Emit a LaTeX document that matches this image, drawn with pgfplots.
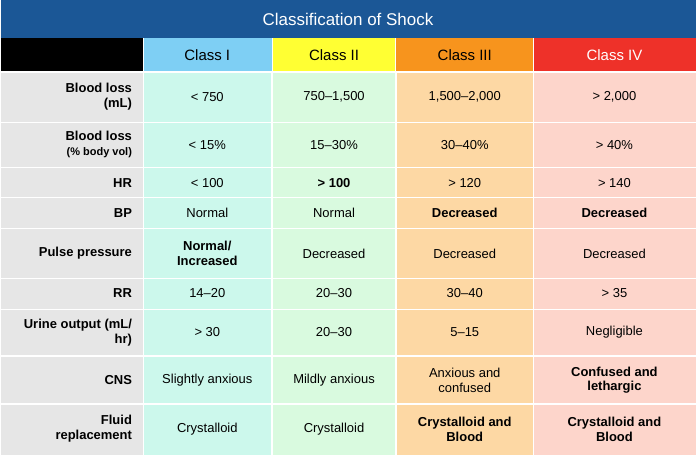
\documentclass[border=0pt]{standalone}
\usepackage{pgfplots}
\pgfplotsset{compat=1.18}
\usepackage{fontspec}
\setmainfont{Liberation Sans}
\definecolor{tblue}{HTML}{1B5796}
\definecolor{c1}{HTML}{7ECFF4}
\definecolor{c2}{HTML}{FFFF33}
\definecolor{c3}{HTML}{F7941D}
\definecolor{c4}{HTML}{EE3129}
\definecolor{p0}{HTML}{E6E6E6}
\definecolor{p1}{HTML}{CCF8EC}
\definecolor{p2}{HTML}{D9FADF}
\definecolor{p3}{HTML}{FDD8A4}
\definecolor{p4}{HTML}{FDD5CB}
\newcommand\cellrow[2]{%
 \fill[p0] (axis cs:0,#1) rectangle (axis cs:143,#2);
 \fill[p1] (axis cs:143,#1) rectangle (axis cs:272,#2);
 \fill[p2] (axis cs:272,#1) rectangle (axis cs:396,#2);
 \fill[p3] (axis cs:396,#1) rectangle (axis cs:534,#2);
 \fill[p4] (axis cs:534,#1) rectangle (axis cs:697,#2);
 \draw[white,line width=1.5pt] (axis cs:0,#1)--(axis cs:697,#1);}
\newcommand\lab[2]{\node[anchor=east,align=right,font=\fontsize{13}{15}\selectfont\bfseries] at (axis cs:135,#1) {#2};}
\newcommand\row[5]{\node at (axis cs:207,#1) {#2};\node at (axis cs:334,#1) {#3};\node at (axis cs:465,#1) {#4};\node at (axis cs:615,#1) {#5};}
\begin{document}
\begin{tikzpicture}
\begin{axis}[width=697pt,height=456pt,scale only axis,axis lines=none,
 xmin=0,xmax=697,ymin=0,ymax=456,y dir=reverse,clip=false]
\fill[tblue] (axis cs:0,0) rectangle (axis cs:697,38);
\node[white,font=\fontsize{17}{20}\selectfont] at (axis cs:348,19) {Classification of Shock};
\fill[black] (axis cs:0,38) rectangle (axis cs:143,72);
\fill[c1] (axis cs:143,38) rectangle (axis cs:272,72);
\fill[c2] (axis cs:272,38) rectangle (axis cs:396,72);
\fill[c3] (axis cs:396,38) rectangle (axis cs:534,72);
\fill[c4] (axis cs:534,38) rectangle (axis cs:697,72);
\draw[white,line width=1pt] (axis cs:143,38)--(axis cs:143,72) (axis cs:272,38)--(axis cs:272,72) (axis cs:396,38)--(axis cs:396,72) (axis cs:534,38)--(axis cs:534,72);
\node[font=\fontsize{15}{18}\selectfont] at (axis cs:207,55) {Class I};
\node[font=\fontsize{15}{18}\selectfont] at (axis cs:334,55) {Class II};
\node[font=\fontsize{15}{18}\selectfont] at (axis cs:465,55) {Class III};
\node[white,font=\fontsize{15}{18}\selectfont] at (axis cs:615,55) {Class IV};
\cellrow{72}{123}
\cellrow{123}{168}
\cellrow{168}{198}
\cellrow{198}{229}
\cellrow{229}{279}
\cellrow{279}{310}
\cellrow{310}{357}
\cellrow{357}{405}
\cellrow{405}{456}
\draw[white,line width=1.5pt] (axis cs:143,72)--(axis cs:143,456) (axis cs:272,72)--(axis cs:272,456) (axis cs:396,72)--(axis cs:396,456) (axis cs:534,72)--(axis cs:534,456);
\begin{scope}[every node/.style={font=\fontsize{13}{15}\selectfont,align=center}]
\lab{97}{Blood loss\\(mL)}
\node[anchor=east,align=right] at (axis cs:135,145) {\textbf{Blood loss}\\{\fontsize{11}{14}\selectfont\bfseries(\% body vol)}};
\lab{183}{HR}
\lab{213}{BP}
\lab{254}{Pulse pressure}
\lab{294}{RR}
\lab{333}{Urine output (mL/\\hr)}
\lab{381}{CNS}
\lab{430}{Fluid\\replacement}
\row{97}{< 750}{750--1,500}{1,500--2,000}{> 2,000}
\row{145}{< 15\%}{15--30\%}{30--40\%}{> 40\%}
\row{183}{< 100}{\textbf{> 100}}{> 120}{> 140}
\row{213}{Normal}{Normal}{\textbf{Decreased}}{\textbf{Decreased}}
\row{254}{\textbf{Normal/}\\\textbf{Increased}}{Decreased}{Decreased}{Decreased}
\row{294}{14--20}{20--30}{30--40}{> 35}
\row{333}{> 30}{20--30}{5--15}{Negligible}
\row{381}{Slightly anxious}{Mildly anxious}{Anxious and\\confused}{\textbf{Confused and}\\\textbf{lethargic}}
\row{430}{Crystalloid}{Crystalloid}{\textbf{Crystalloid and}\\\textbf{Blood}}{\textbf{Crystalloid and}\\\textbf{Blood}}
\end{scope}
\end{axis}
\end{tikzpicture}
\end{document}
